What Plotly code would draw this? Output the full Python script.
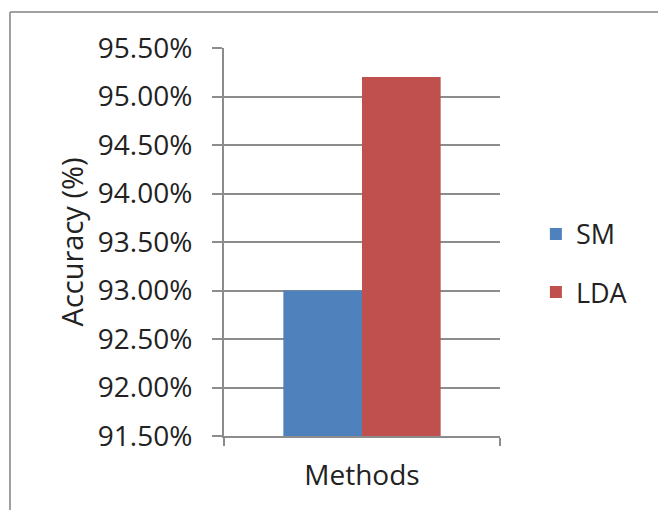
import plotly.graph_objects as go

# Classification accuracy per method (%)
methods = ["SM", "LDA"]
accuracy = [93.00, 95.20]
colors = ["#4F81BD", "#C0504D"]
tick_vals = [91.5, 92.0, 92.5, 93.0, 93.5, 94.0, 94.5, 95.0, 95.5]
tick_text = ["91.50%", "92.00%", "92.50%", "93.00%", "93.50%",
             "94.00%", "94.50%", "95.00%", "95.50%"]

FONT = "Open Sans"
GRID = "#8C8C8C"

fig = go.Figure()
for i, (name, val, col) in enumerate(zip(methods, accuracy, colors)):
    fig.add_trace(go.Bar(
        x=[0], y=[val - 91.5], base=91.5, name=name,
        marker=dict(color=col, line=dict(width=0)),
        legendgroup=name,
    ))

fig.update_layout(
    width=658, height=510,
    margin=dict(l=224, r=158, t=48, b=74),
    paper_bgcolor="white", plot_bgcolor="white",
    barmode="group", bargap=0.43,
    font=dict(family=FONT, color="#222222", size=28),
    showlegend=True,
    legend=dict(x=1.13, y=0.445, xanchor="left", yanchor="middle",
                font=dict(size=27, family=FONT), tracegroupgap=20,
                itemwidth=30, bgcolor="rgba(0,0,0,0)"),
    xaxis=dict(range=[-0.5, 0.5], showticklabels=False, showgrid=False,
               zeroline=False, showline=True, linecolor=GRID, linewidth=2,
               ticks="outside", tickvals=[-0.5, 0.5], ticklen=8,
               tickcolor=GRID, tickwidth=2,
               title=dict(text="Methods", font=dict(size=28, family=FONT),
                          standoff=20)),
    yaxis=dict(range=[91.5, 95.5], tickvals=tick_vals, ticktext=tick_text,
               showgrid=True, gridcolor=GRID, gridwidth=2,
               zeroline=False, showline=True, linecolor=GRID, linewidth=2,
               ticks="outside", ticklen=10, tickcolor=GRID, tickwidth=2,
               ticklabelstandoff=14,
               tickfont=dict(size=28, family=FONT),
               title=dict(text="Accuracy (%)", font=dict(size=29, family=FONT),
                          standoff=6)),
)

# Outer chart frame (left and top edges)
fig.add_shape(type="line", xref="paper", yref="paper",
              x0=-214 / 276, x1=-214 / 276, y0=1 + 36 / 388, y1=-74 / 388 - 0.01,
              line=dict(color="#A0A0A0", width=2))
fig.add_shape(type="line", xref="paper", yref="paper",
              x0=-214 / 276, x1=(658 - 224) / 276, y0=1 + 36 / 388, y1=1 + 36 / 388,
              line=dict(color="#A0A0A0", width=2))

fig.write_html("out.html")
